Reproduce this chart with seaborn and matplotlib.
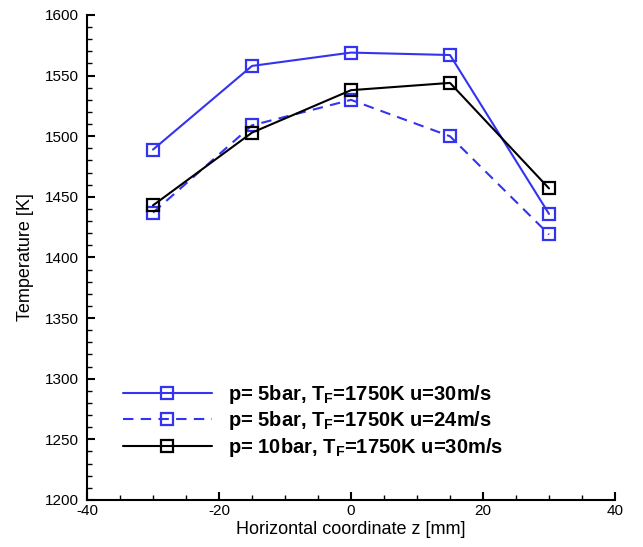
import matplotlib
matplotlib.use("Agg")
import matplotlib.pyplot as plt
from matplotlib.ticker import MultipleLocator
import seaborn as sns
import pandas as pd

z_mm = [-30, -15, 0, 15, 30]
temp_5bar_30 = [1489, 1558, 1569, 1567, 1436]
temp_5bar_24 = [1437, 1509, 1530, 1500, 1419]
temp_10bar_30 = [1443, 1503, 1538, 1544, 1457]
labels = [r"p= 5bar, $\mathbf{T_F}$=1750K u=30m/s",
          r"p= 5bar, $\mathbf{T_F}$=1750K u=24m/s",
          r"p= 10bar, $\mathbf{T_F}$=1750K u=30m/s"]

sns.set_theme(style="ticks")
plt.rcParams["font.family"] = ["Liberation Sans", "DejaVu Sans"]
plt.rcParams["mathtext.fontset"] = "custom"
plt.rcParams["mathtext.rm"] = "Liberation Sans"
plt.rcParams["mathtext.bf"] = "Liberation Sans:bold"
plt.rcParams["mathtext.it"] = "Liberation Sans:italic"
plt.rcParams["axes.unicode_minus"] = False
plt.rcParams["text.color"] = "black"
plt.rcParams["axes.labelcolor"] = "black"
plt.rcParams["xtick.color"] = "black"
plt.rcParams["ytick.color"] = "black"

fig = plt.figure(figsize=(6.43, 5.47), dpi=100)
ax = fig.add_axes([87/643, 47/547, 528/643, 485/547])

blue = "#3333f0"
series = [
    (temp_5bar_30, blue, "-"),
    (temp_5bar_24, blue, (0, (5, 3.5))),
    (temp_10bar_30, "black", "-"),
]
for (vals, col, ls), lab in zip(series, labels):
    df = pd.DataFrame({"z": z_mm, "T": vals})
    sns.lineplot(data=df, x="z", y="T", ax=ax, color=col, linestyle=ls,
                 marker="s", markersize=8.5, markerfacecolor="none",
                 markeredgecolor=col, markeredgewidth=1.6, linewidth=1.5,
                 label=lab)

ax.set_xlim(-40, 40)
ax.set_ylim(1200, 1600)
ax.xaxis.set_major_locator(MultipleLocator(20))
ax.xaxis.set_minor_locator(MultipleLocator(5))
ax.yaxis.set_major_locator(MultipleLocator(50))
ax.yaxis.set_minor_locator(MultipleLocator(10))
ax.tick_params(which="major", direction="in", length=6, width=1.5, labelsize=11, colors="black")
ax.tick_params(which="minor", direction="in", length=3.5, width=1.0, colors="black")
ax.tick_params(axis="y", which="major", pad=6)
ax.tick_params(axis="x", which="major", pad=3)
for s in ["top", "right"]:
    ax.spines[s].set_visible(False)
for s in ["left", "bottom"]:
    ax.spines[s].set_linewidth(1.5)
    ax.spines[s].set_color("black")

ax.set_xlabel("Horizontal coordinate z [mm]", fontsize=13, color="black", labelpad=2)
ax.set_ylabel("Temperature [K]", fontsize=13, color="black", labelpad=8)

leg = ax.legend(loc="center left", bbox_to_anchor=(36/528, 79/485), frameon=False,
                borderpad=0, borderaxespad=0, handlelength=4.4, handletextpad=0.8,
                labelspacing=0.18, numpoints=1,
                prop={"weight": "bold", "size": 14.5})
for t in leg.get_texts():
    t.set_color("black")

fig.savefig("out.png", dpi=100)
